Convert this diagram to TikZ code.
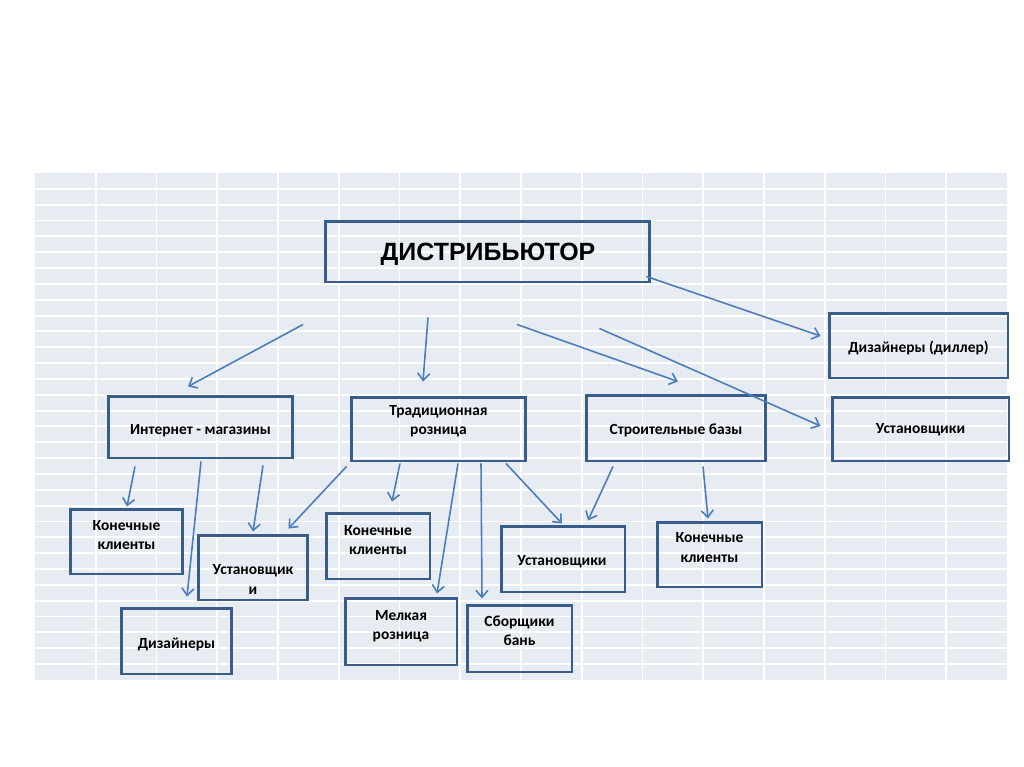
\documentclass[tikz,border=0pt]{standalone}
\usepackage{fontspec}
\setmainfont{Carlito}
\newfontfamily\titlefont{Liberation Sans}
\usetikzlibrary{positioning, calc, arrows.meta}

\definecolor{boxline}{HTML}{385D8A}
\definecolor{arrowline}{HTML}{4A7EBB}
\definecolor{gridfill}{HTML}{E7EBF2}

\begin{document}
\begin{tikzpicture}[
		x=0.02cm, y=-0.02cm,
		% --- рамки блоков ---
		block/.style={
			rectangle,
			draw=boxline,
			line width=1.7pt
		},
		% --- подписи внутри блоков ---
		blocktext/.style={
			font=\bfseries\fontsize{8.8}{11}\selectfont,
			align=center,
			inner sep=0pt
		},
		% --- стрелки ---
		link/.style={
			-{Straight Barb[length=0.14cm, width=0.24cm]},
			line width=0.9pt,
			color=arrowline
		}
		]
		
		\useasboundingbox (0,0) rectangle (1024,767);
		
		% --- ФОН: СЕТКА ---
		\fill [gridfill] (35,173) rectangle (1007,680);
		\foreach \i in {1,...,15}
			\draw [white, line width=1.1pt] ({35+60.75*\i},173) -- ({35+60.75*\i},680);
		\foreach \j in {1,...,31}
			\draw [white, line width=1.1pt] (35,{173+15.84*\j}) -- (1007,{173+15.84*\j});
		
		% --- ДИСТРИБЬЮТОР ---
		\node (dist) [block, minimum width=6.5cm, minimum height=1.22cm] at (487.5,251.5) {};
		\node (dist_t) [font=\titlefont\bfseries\fontsize{14.2}{17}\selectfont, inner sep=0pt] at ($(dist)+(0.5,2.5)$) {ДИСТРИБЬЮТОР};
		
		% --- ВТОРОЙ УРОВЕНЬ ---
		\node (inet) [block, minimum width=3.7cm, minimum height=1.24cm] at (200.5,427) {};
		\node (inet_t) [blocktext] at ($(inet)+(0,4)$) {Интернет - магазины};
		
		\node (trad) [block, minimum width=3.5cm, minimum height=1.28cm] at (438.5,429) {};
		\node (trad_t) [blocktext] at ($(trad)+(0,-8)$) {Традиционная\\розница};
		
		\node (stroi) [block, minimum width=3.6cm, minimum height=1.32cm] at (676,428) {};
		\node (stroi_t) [blocktext] at ($(stroi)+(0,2)$) {Строительные базы};
		
		\node (dizd) [block, minimum width=3.58cm, minimum height=1.3cm] at (918.5,345.5) {};
		\node (dizd_t) [blocktext] at ($(dizd)+(0,2.5)$) {Дизайнеры (диллер)};
		
		\node (ustr) [block, minimum width=3.54cm, minimum height=1.28cm] at (920.5,429) {};
		\node (ustr_t) [blocktext] at ($(ustr)+(0,1)$) {Установщики};
		
		% --- ТРЕТИЙ УРОВЕНЬ ---
		\node (kk1) [block, minimum width=2.26cm, minimum height=1.3cm] at (126.5,541.5) {};
		\node (kk1_t) [blocktext] at ($(kk1)+(0,-6.5)$) {Конечные\\клиенты};
		
		\node (ust1) [block, minimum width=2.2cm, minimum height=1.3cm] at (253,567.5) {};
		\node (ust1_t) [blocktext] at ($(ust1)+(0,12)$) {Установщик\\и};
		
		\node (diz) [block, minimum width=2.22cm, minimum height=1.32cm] at (176.5,641) {};
		\node (diz_t) [blocktext] at ($(diz)+(0,3)$) {Дизайнеры};
		
		\node (kk2) [block, minimum width=2.08cm, minimum height=1.32cm] at (378,546) {};
		\node (kk2_t) [blocktext] at ($(kk2)+(0,-6)$) {Конечные\\клиенты};
		
		\node (melk) [block, minimum width=2.24cm, minimum height=1.34cm] at (401,631.5) {};
		\node (melk_t) [blocktext] at ($(melk)+(0,-5.5)$) {Мелкая\\розница};
		
		\node (sbor) [block, minimum width=2.1cm, minimum height=1.34cm] at (519.5,638.5) {};
		\node (sbor_t) [blocktext] at ($(sbor)+(0,-8)$) {Сборщики\\бань};
		
		\node (ust2) [block, minimum width=2.48cm, minimum height=1.32cm] at (563,559) {};
		\node (ust2_t) [blocktext] at ($(ust2)+(-1,3)$) {Установщики};
		
		\node (kk3) [block, minimum width=2.1cm, minimum height=1.3cm] at (709.5,554.5) {};
		\node (kk3_t) [blocktext] at ($(kk3)+(0,-7)$) {Конечные\\клиенты};
		
		% --- СТРЕЛКИ ОТ ДИСТРИБЬЮТОРА ---
		\draw [link] ($(dist.south east)+(-5,-7)$) -- ($(dizd.west)+(-7,-9.5)$);
		\draw [link] ($(dist.south east)+(-52,45)$) -- ($(ustr.west)+(-10,-3)$);
		\draw [link] ($(dist.south)+(29.5,41)$) -- ($(stroi.north)+(2,-12)$);
		\draw [link] ($(dist.south)+(-59.5,34)$) -- ($(trad.north)+(-15.5,-14)$);
		\draw [link] ($(dist.south)+(-184.5,41)$) -- ($(inet.north)+(-12.5,-8)$);
		
		% --- ИНТЕРНЕТ-МАГАЗИНЫ ---
		\draw [link] ($(inet.south)+(-65.5,7)$) -- ($(kk1.north)+(0.5,-1)$);
		\draw [link] ($(inet.south)+(0.5,2)$) -- ($(diz.north)+(10.5,-10)$);
		\draw [link] ($(inet.south)+(62.5,6)$) -- ($(ust1.north)+(0,-2)$);
		
		% --- ТРАДИЦИОННАЯ РОЗНИЦА ---
		\draw [link] ($(trad.south west)+(-3,4)$) -- ($(ust1.north east)+(-21,-5)$);
		\draw [link] ($(trad.south)+(-38.5,1)$) -- ($(kk2.north)+(14,-10)$);
		\draw [link] ($(trad.south)+(19.5,1)$) -- ($(melk.north)+(36,-3)$);
		\draw [link] ($(trad.south)+(42.5,1)$) -- ($(sbor.north)+(-37.5,-5)$);
		\draw [link] ($(trad.south)+(67.5,1)$) -- ($(ust2.north)+(-1,-1)$);
		
		% --- СТРОИТЕЛЬНЫЕ БАЗЫ ---
		\draw [link] ($(stroi.south)+(-63,4)$) -- ($(ust2.north)+(25,-4)$);
		\draw [link] ($(stroi.south)+(27,4)$) -- ($(kk3.north)+(-1.5,-2)$);
		
	\end{tikzpicture}
\end{document}
